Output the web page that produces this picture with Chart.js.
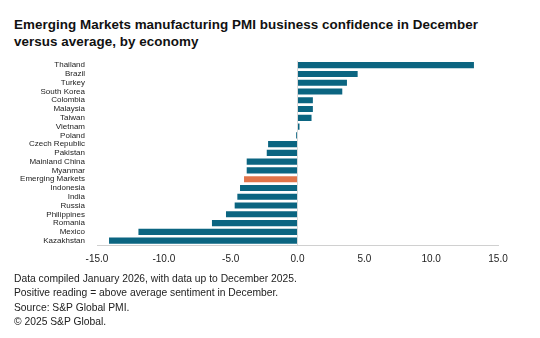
<!DOCTYPE html>
<html>
<head>
<meta charset="utf-8">
<script src="https://cdn.jsdelivr.net/npm/chart.js@4/dist/chart.umd.min.js"></script>
<style>
  html, body { margin: 0; padding: 0; background: #fff; }
  body { width: 540px; height: 338px; position: relative; overflow: hidden; font-family: "Liberation Sans", Arial, sans-serif; }
  #title { position: absolute; left: 14px; top: 16px; font-size: 13.4px; font-weight: bold; color: #111; line-height: 17px; letter-spacing: 0.05px; }
  #chartBox { position: absolute; left: 0; top: 52px; width: 540px; height: 221px; }
  #notes { position: absolute; left: 14px; top: 272px; font-size: 10.3px; color: #222; line-height: 14.4px; }
</style>
</head>
<body>
<div id="title">Emerging Markets manufacturing PMI business confidence in December<br>versus average, by economy</div>
<div id="chartBox"><canvas id="chart_canvas" width="540" height="221"></canvas></div>
<div id="notes">
  Data compiled January 2026, with data up to December 2025.<br>
  Positive reading = above average sentiment in December.<br>
  Source: S&amp;P Global PMI.<br>
  &copy; 2025 S&amp;P Global.
</div>
<script>
// economies, top to bottom
var economies = ["Thailand", "Brazil", "Turkey", "South Korea", "Colombia", "Malaysia", "Taiwan",
  "Vietnam", "Poland", "Czech Republic", "Pakistan", "Mainland China", "Myanmar", "Emerging Markets",
  "Indonesia", "India", "Russia", "Philippines", "Romania", "Mexico", "Kazakhstan"];
// business confidence vs long-run average
var confidence = [13.2, 4.5, 3.7, 3.35, 1.15, 1.15, 1.05,
  0.15, -0.1, -2.2, -2.3, -3.8, -3.8, -4.0,
  -4.3, -4.5, -4.7, -5.35, -6.4, -11.9, -14.1];
var xTicks = [-15, -10, -5, 0, 5, 10, 15];

var teal = "#0b6581";
var orange = "#e0744a";
var barColors = economies.map(function (e) {
  return e === "Emerging Markets" ? orange : teal;
});

new Chart(document.getElementById("chart_canvas"), {
  type: "bar",
  data: {
    labels: economies,
    datasets: [{
      data: confidence,
      backgroundColor: barColors,
      borderWidth: 0,
      categoryPercentage: 0.7,
      barPercentage: 1.0
    }]
  },
  options: {
    indexAxis: "y",
    responsive: false,
    animation: false,
    layout: { padding: { left: 4, right: 42, top: 3, bottom: 0 } },
    plugins: { legend: { display: false }, tooltip: { enabled: false } },
    scales: {
      x: {
        min: -15,
        max: 15,
        afterBuildTicks: function (axis) {
          axis.ticks = xTicks.map(function (v) { return { value: v }; });
        },
        ticks: {
          color: "#222",
          font: { family: "Liberation Sans", size: 10 },
          padding: 8,
          maxRotation: 0,
          callback: function (v) { return Number(v).toFixed(1); }
        },
        grid: {
          color: function (ctx) { return ctx.tick && ctx.tick.value === 0 ? "#d9d9d9" : "rgba(0,0,0,0)"; },
          drawTicks: false
        },
        border: { display: true, color: "#d0d0d0" }
      },
      y: {
        ticks: {
          color: "#222",
          font: { family: "Liberation Sans", size: 8 },
          padding: 4,
          autoSkip: false
        },
        grid: { display: false },
        border: { display: false },
        afterFit: function (axis) { axis.width = 93; }
      }
    }
  }
});
</script>
</body>
</html>
